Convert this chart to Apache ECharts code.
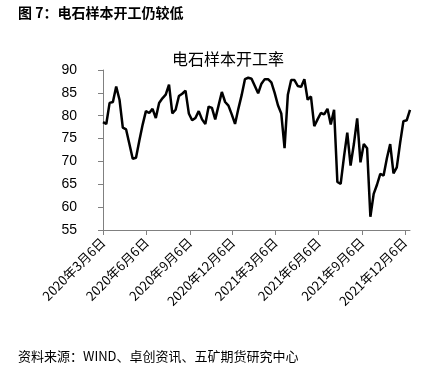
<!DOCTYPE html>
<html>
<head>
<meta charset="utf-8">
<script src="https://cdn.jsdelivr.net/npm/echarts@6/dist/echarts.min.js"></script>
<style>
  html, body { margin: 0; padding: 0; background: #fff; }
  #chart { width: 439px; height: 377px; }
</style>
</head>
<body>
<div id="chart"></div>
<script>
// weekly series, first week 2020-03-06
const startDay = [2020, 3, 6];
const rate = [
  78.6, 78.2, 82.8, 83.0, 86.4, 83.5, 77.4, 77.0, 73.8, 70.6,
  70.8, 74.5, 78.0, 81.0, 80.6, 81.5, 79.5, 82.8, 83.8, 84.6,
  86.8, 80.5, 81.3, 84.3, 84.8, 85.5, 80.5, 79.0, 79.5, 81.0,
  79.2, 78.2, 82.0, 81.7, 79.2, 82.2, 85.2, 83.0, 82.2, 80.3,
  78.2, 81.5, 84.5, 88.0, 88.3, 88.1, 86.5, 84.9, 87.0, 88.0,
  88.0, 87.3, 85.0, 82.3, 80.5, 72.9, 84.6, 87.8, 87.8, 86.5,
  86.3, 88.0, 83.5, 84.2, 77.7, 79.2, 80.6, 80.3, 81.5, 78.1,
  81.3, 65.5, 65.1, 71.0, 76.3, 69.1, 73.8, 79.4, 69.8, 73.8,
  72.9, 57.9, 62.9, 64.9, 67.3, 66.9, 70.7, 73.8, 67.4, 68.7,
  74.0, 78.8, 79.0, 81.3
];
const tickDays = [
  [2020, 3, 6], [2020, 6, 6], [2020, 9, 6], [2020, 12, 6],
  [2021, 3, 6], [2021, 6, 6], [2021, 9, 6], [2021, 12, 6]
];

const toTime = (d) => new Date(d[0], d[1] - 1, d[2]).getTime();
const WEEK = 7 * 24 * 3600 * 1000;
const t0 = toTime(startDay);
const seriesData = rate.map((v, i) => [t0 + i * WEEK, v]);
const tickTimes = tickDays.map(toTime);

const fmtDate = (val) => {
  const d = new Date(val);
  return d.getFullYear() + "年" + (d.getMonth() + 1) + "月" + d.getDate() + "日";
};

const chart = echarts.init(document.getElementById("chart"));
const option = {
  backgroundColor: "#fff",
  animation: false,
  title: [
    {
      text: "图 7：电石样本开工仍较低",
      left: 13,
      top: 1,
      textStyle: {
        fontFamily: "Noto Sans CJK SC",
        fontSize: 14,
        fontWeight: "bold",
        color: "#000",
      },
    },
    {
      text: "电石样本开工率",
      left: 223,
      textAlign: "center",
      top: 46,
      textStyle: {
        fontFamily: "Noto Sans CJK SC",
        fontSize: 16,
        fontWeight: "normal",
        color: "#000",
      },
    },
    {
      text: "资料来源：WIND、卓创资讯、五矿期货研究中心",
      left: 13,
      top: 345,
      textStyle: {
        fontFamily: "Noto Sans CJK SC",
        fontSize: 13,
        fontWeight: "normal",
        color: "#000",
      },
    },
  ],
  grid: {
    left: 103,
    right: 29,
    top: 70,
    bottom: 147,
  },
  xAxis: {
    type: "value",
    min: t0,
    max: seriesData[seriesData.length - 1][0],
    axisLine: { lineStyle: { color: "#808080", width: 1 } },
    axisTick: {
      show: true,
      length: 5,
      customValues: tickTimes,
      lineStyle: { color: "#808080" },
    },
    axisLabel: {
      customValues: tickTimes,
      rotate: 45,
      margin: 10,
      formatter: fmtDate,
      fontFamily: "Noto Sans CJK SC",
      fontSize: 13,
      color: "#000",
    },
    splitLine: { show: false },
  },
  yAxis: {
    type: "value",
    min: 55,
    max: 90,
    interval: 5,
    axisLine: { show: true, lineStyle: { color: "#808080", width: 1 } },
    axisTick: { show: true, length: 5, lineStyle: { color: "#808080" } },
    axisLabel: {
      margin: 26,
      fontFamily: "Liberation Sans",
      fontSize: 14,
      color: "#000",
    },
    splitLine: { show: false },
  },
  series: [
    {
      type: "line",
      data: seriesData,
      showSymbol: false,
      lineStyle: { color: "#000", width: 2.5 },
    },
  ],
};
chart.setOption(option);
</script>
</body>
</html>
